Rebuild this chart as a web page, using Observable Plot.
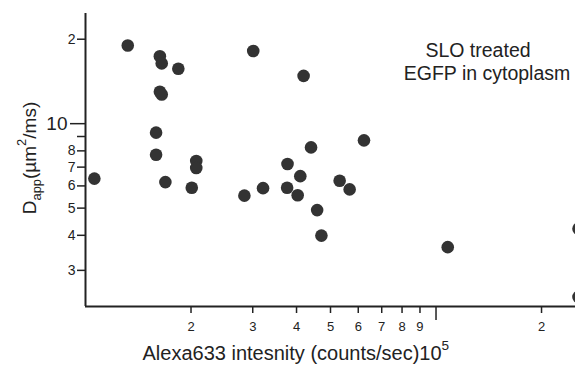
<!DOCTYPE html>
<html><head><meta charset="utf-8">
<script src="https://cdn.jsdelivr.net/npm/d3@7"></script>
<script src="https://cdn.jsdelivr.net/npm/@observablehq/plot@0.6"></script>
<style>
html,body{margin:0;padding:0;background:#fff;overflow:hidden;}
</style></head><body><div id="chart"></div>
<script>
// Data (intensity in counts/sec, Dapp in µm²/ms)
const intensity = [10600, 13200, 16300, 16500, 18400, 16300, 16500, 15900, 15900, 16900,
  20100, 20700, 20700, 28400, 32100, 30100, 41900, 37700, 37600, 41000,
  40300, 44000, 45800, 47100, 53100, 56700, 62300, 108000, 255000, 255000];
const dapp = [6.37, 19.0, 17.4, 16.4, 15.7, 13.0, 12.7, 9.29, 7.75, 6.19,
  5.91, 7.36, 6.95, 5.54, 5.89, 18.15, 14.8, 7.18, 5.91, 6.50,
  5.56, 8.23, 4.92, 3.99, 6.26, 5.83, 8.72, 3.63, 4.22, 2.41];

const xTicks = [20000, 30000, 40000, 50000, 60000, 70000, 80000, 90000, 200000];
const xTickLabels = ["2", "3", "4", "5", "6", "7", "8", "9", "2"];
const xMajorTicks = [100000];
const yTicks = [3, 4, 5, 6, 7, 8, 9, 20];
const yTickLabels = ["3", "4", "5", "6", "7", "8", "", "2"];
const yMajorTicks = [10];
const yMajorLabels = ["10"];
const annotationLines = ["SLO treated", "EGFP in cytoplasm"];
const xTitle = "Alexa633 intesnity (counts/sec)10^{5}";
const yTitle = "D_{app}(µm^{2}/ms)";

const points = intensity.map((x, i) => ({x, y: dapp[i]}));
const xLab = new Map(xTicks.map((d, i) => [d, xTickLabels[i]]));
const yLab = new Map(yTicks.map((d, i) => [d, yTickLabels[i]]));
const yMajLab = new Map(yMajorTicks.map((d, i) => [d, yMajorLabels[i]]));
const ink = "#222";

const svg = Plot.plot({
  width: 575, height: 365,
  marginLeft: 85, marginRight: 0, marginTop: 13, marginBottom: 59,
  style: {fontFamily: "'Liberation Sans', Arial, Helvetica, sans-serif", background: "#fff", color: ink},
  x: {type: "log", domain: [1e4, 2.5e5]},
  y: {type: "log", domain: [2.23, 24.7]},
  marks: [
    Plot.axisX(xTicks, {tickSize: 7, strokeWidth: 1.5, tickFormat: () => "", label: null}),
    Plot.text(xTicks, {x: d => d, frameAnchor: "bottom", dy: 15, lineAnchor: "top", text: d => xLab.get(d), fontSize: 13, fill: ink}),
    Plot.axisX(xMajorTicks, {tickSize: 14, strokeWidth: 1.5, tickFormat: () => "", label: null}),
    Plot.axisY(yTicks, {tickSize: 8, tickPadding: 2, fontSize: 14, strokeWidth: 1.5, tickFormat: d => yLab.get(d), label: null}),
    Plot.axisY(yMajorTicks, {tickSize: 15, tickPadding: 3, fontSize: 19, strokeWidth: 1.5, tickFormat: d => yMajLab.get(d), label: null}),
    Plot.ruleX([1e4], {stroke: ink, strokeWidth: 2}),
    Plot.ruleY([2.23], {stroke: ink, strokeWidth: 2}),
    Plot.dot(points, {x: "x", y: "y", r: 6.3, fill: "#333", stroke: "none"}),
    Plot.text([annotationLines.join("\n")], {frameAnchor: "top-left", dx: 397, dy: 66, textAnchor: "middle", lineAnchor: "bottom", lineHeight: 1.16, fontSize: 19.5, fill: ink}),
    Plot.text([xTitle], {frameAnchor: "bottom-left", dx: 57, dy: 53, textAnchor: "start", lineAnchor: "bottom", fontSize: 20, fill: ink}),
    Plot.text([yTitle], {frameAnchor: "left", dx: -56, dy: -2, rotate: -90, textAnchor: "middle", fontSize: 19, fill: ink})
  ]
});
document.getElementById("chart").appendChild(svg);

// Turn ^{..} and _{..} markers into real superscript / subscript tspans
d3.select(svg).selectAll("text").each(function() {
  const tsp = this.querySelectorAll("tspan");
  if (tsp.length === 2 && tsp[0].textContent === annotationLines[0]) {
    // the two annotation lines are not exactly centred on each other
    tsp[0].setAttribute("dx", "-4.5");
    tsp[1].setAttribute("dx", "4.5");
    return;
  }
  let leaf = tsp[0] || this;
  const s = leaf.textContent;
  if (!/[\^_]\{/.test(s)) return;
  const F = parseFloat(getComputedStyle(leaf).fontSize) || 16;
  const parts = s.split(/(\^\{[^}]*\}|_\{[^}]*\})/).filter(p => p !== "");
  leaf.textContent = "";
  let shift = 0;
  for (const p of parts) {
    let txt = p, target = 0, size = null;
    if (p.startsWith("^{")) { txt = p.slice(2, -1); target = -0.48 * F; size = 0.68 * F; }
    else if (p.startsWith("_{")) { txt = p.slice(2, -1); target = 0.28 * F; size = 0.68 * F; }
    const t = document.createElementNS("http://www.w3.org/2000/svg", "tspan");
    t.setAttribute("dy", (target - shift).toFixed(2));
    shift = target;
    if (size) t.setAttribute("font-size", size.toFixed(1));
    t.textContent = txt;
    leaf.appendChild(t);
  }
});
</script></body></html>
